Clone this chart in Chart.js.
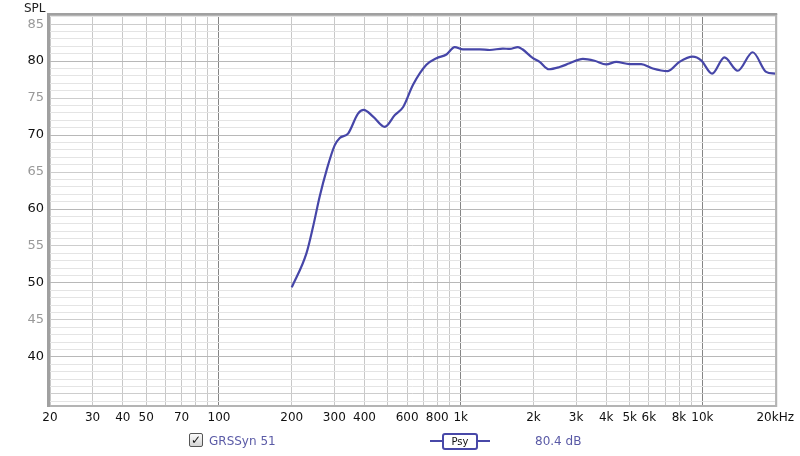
<!DOCTYPE html>
<html>
<head>
<meta charset="utf-8">
<script src="https://cdn.jsdelivr.net/npm/chart.js@4/dist/chart.umd.min.js"></script>
<style>
  body { margin: 0; background: #fff; font-family: "DejaVu Sans", sans-serif; }
  #wrap { position: relative; width: 800px; height: 456px; }
  #spl { position: absolute; left: 24px; top: 1px; font-size: 12px; color: #222; }
  .leg { position: absolute; font-size: 12px; color: #5a5aa6; }
  #chk { position: absolute; left: 189px; top: 433px; width: 12px; height: 12px; border: 1px solid #555;
         border-radius: 2px; background: linear-gradient(#fafafa, #d4d4d4); font-size: 12px; line-height: 12px;
         text-align: center; color: #111; font-weight: bold; }
  #psyline { position: absolute; left: 430px; top: 440px; width: 60px; height: 2px; background: #4848a8; }
  #psy { position: absolute; left: 442px; top: 433px; width: 32px; height: 13px; border: 2px solid #4848a8;
         border-radius: 3px; background: #fff; font-size: 10px; line-height: 13px; text-align: center; color: #111; }
</style>
</head>
<body>
<div id="wrap">
  <canvas id="c" width="800" height="456"></canvas>
  <div id="spl">SPL</div>
  <div id="chk">✓</div>
  <div class="leg" style="left:209px; top:434px;">GRSSyn 51</div>
  <div id="psyline"></div>
  <div id="psy">Psy</div>
  <div class="leg" style="left:535px; top:434px;">80.4 dB</div>
</div>
<script>
// frequency response (Hz, dB)
const freqs = [200, 230, 245, 261, 279, 301, 316, 342, 376, 397, 434, 485, 534, 578, 635, 721, 794, 873, 944,
  1022, 1198, 1318, 1495, 1594, 1725, 1800, 1990, 2121, 2317, 2566, 2820, 3202, 3578, 4000, 4400, 4990, 5580,
  6230, 7190, 8035, 9120, 9877, 10965, 12330, 13990, 16140, 18330, 20000];
const spl = [49.4, 54.0, 57.6, 61.7, 65.3, 68.6, 69.6, 70.2, 72.9, 73.4, 72.5, 71.1, 72.7, 73.8, 76.8, 79.5, 80.4, 80.9, 81.9,
  81.6, 81.6, 81.5, 81.7, 81.65, 81.9, 81.6, 80.4, 79.9, 78.9, 79.2, 79.7, 80.3, 80.05, 79.55, 79.9, 79.6, 79.6,
  79.0, 78.65, 79.9, 80.6, 80.1, 78.3, 80.5, 78.7, 81.2, 78.55, 78.3];

const xGrid = [20, 30, 40, 50, 60, 70, 80, 90, 100, 200, 300, 400, 500, 600, 700, 800, 900, 1000,
  2000, 3000, 4000, 5000, 6000, 7000, 8000, 9000, 10000, 20000];
const xLabels = {20: '20', 30: '30', 40: '40', 50: '50', 70: '70', 100: '100', 200: '200', 300: '300', 400: '400',
  600: '600', 800: '800', 1000: '1k', 2000: '2k', 3000: '3k', 4000: '4k', 5000: '5k', 6000: '6k', 8000: '8k',
  10000: '10k', 20000: '20kHz'};
const yMin = 33.5, yMax = 86.1;

const points = freqs.map((f, i) => ({ x: f, y: spl[i] }));

const frame = {
  id: 'frame',
  afterDraw(chart) {
    const a = chart.chartArea, g = chart.ctx;
    g.save();
    g.strokeStyle = '#b4b4b4'; g.lineWidth = 2;
    g.strokeRect(a.left - 1, a.top - 1, a.right - a.left + 2, a.bottom - a.top + 2);
    g.fillStyle = '#a0a0a0';
    g.fillRect(a.left - 3, a.top - 2, 3, a.bottom - a.top + 4);
    g.fillRect(a.left - 3, a.top - 3, a.right - a.left + 5, 2);
    g.restore();
  }
};

new Chart(document.getElementById('c'), {
  type: 'line',
  data: { datasets: [{ data: points, borderColor: '#4646a8', borderWidth: 2.2, pointRadius: 0,
    cubicInterpolationMode: 'monotone', fill: false }] },
  options: {
    responsive: false, animation: false,
    layout: { padding: { left: 0, right: 24, top: 16, bottom: 26 } },
    plugins: { legend: { display: false }, tooltip: { enabled: false } },
    scales: {
      x: {
        type: 'logarithmic', min: 20, max: 20000,
        afterBuildTicks: s => { s.ticks = xGrid.map(v => ({ value: v })); },
        afterFit: s => { s.height = 25; },
        grid: { drawTicks: false,
          color: c => [100, 1000, 10000].includes(c.tick && c.tick.value) ? '#858585' : '#c8c8c8' },
        border: { display: false },
        ticks: { autoSkip: false, maxRotation: 0, padding: 6, color: '#111',
          font: { family: 'DejaVu Sans', size: 12 },
          callback: v => xLabels[v] || '' }
      },
      y: {
        min: yMin, max: yMax,
        afterBuildTicks: s => { const t = []; for (let v = 34; v <= 86; v++) t.push({ value: v }); s.ticks = t; },
        afterFit: s => { s.width = 50; },
        grid: { drawTicks: false,
          color: c => { const v = c.tick && c.tick.value; return v % 10 === 0 ? '#b8b8b8' : v % 5 === 0 ? '#cdcdcd' : '#e4e4e4'; } },
        border: { display: false },
        ticks: { autoSkip: false, padding: 6,
          font: { family: 'DejaVu Sans', size: 13 },
          color: c => c.tick.value % 10 === 0 ? '#111' : '#999',
          callback: v => (v % 5 === 0 && v >= 40) ? String(v) : '' }
      }
    }
  },
  plugins: [frame]
});
</script>
</body>
</html>
